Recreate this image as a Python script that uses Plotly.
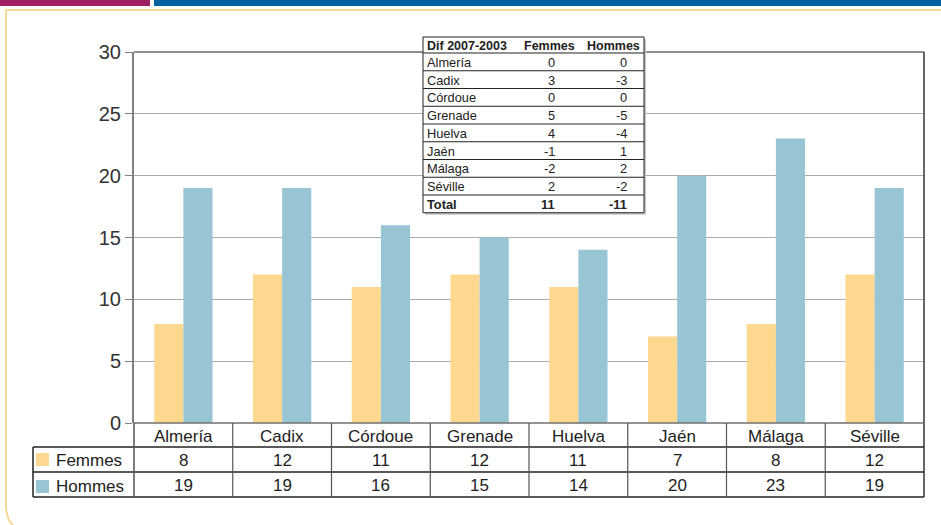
import plotly.graph_objects as go

# ---------------- data ----------------
categories = ["Almería", "Cadix", "Córdoue", "Grenade", "Huelva", "Jaén", "Málaga", "Séville"]
femmes = [8, 12, 11, 12, 11, 7, 8, 12]
hommes = [19, 19, 16, 15, 14, 20, 23, 19]

diff_title = "Dif 2007-2003"
diff_cols = ["Femmes", "Hommes"]
diff_femmes = [0, 3, 0, 5, 4, -1, -2, 2]
diff_hommes = [0, -3, 0, -5, -4, 1, 2, -2]
diff_total_label = "Total"
diff_total = [11, -11]

y_ticks = [0, 5, 10, 15, 20, 25, 30]

# ---------------- layout helpers ----------------
W, H = 941, 525
L, R, T, B = 134, 924, 52, 423  # plot area in pixels
FONT = "Liberation Sans, Arial, sans-serif"
C_F = "#FDD88E"
C_H = "#98C5D4"


def px(x):
    return (x - L) / (R - L)


def py(y):
    return (B - y) / (B - T)


fig = go.Figure()
fig.add_trace(go.Bar(x=categories, y=femmes, name="Femmes", marker=dict(color=C_F, line=dict(width=0))))
fig.add_trace(go.Bar(x=categories, y=hommes, name="Hommes", marker=dict(color=C_H, line=dict(width=0))))

shapes = []
ann = []


def rect(x0, y0, x1, y1, fill=None, line=None, lw=1):
    shapes.append(dict(type="rect", xref="paper", yref="paper",
                       x0=px(x0), x1=px(x1), y0=py(y0), y1=py(y1),
                       fillcolor=fill if fill else "rgba(0,0,0,0)",
                       line=dict(color=line if line else "rgba(0,0,0,0)", width=lw if line else 0)))


def hline(x0, x1, y, color, lw=1):
    shapes.append(dict(type="line", xref="paper", yref="paper", x0=px(x0), x1=px(x1), y0=py(y), y1=py(y),
                       line=dict(color=color, width=lw)))


def vline_px(x, y0, y1, color, lw=1):
    shapes.append(dict(type="line", xref="paper", yref="paper", x0=px(x), x1=px(x), y0=py(y0), y1=py(y1),
                       line=dict(color=color, width=lw)))


def vline_data(xv, y0, y1, color, lw=1):
    shapes.append(dict(type="line", xref="x", yref="paper", x0=xv, x1=xv, y0=py(y0), y1=py(y1),
                       line=dict(color=color, width=lw)))


def text(x, y, s, size=16, anchor="center", bold=False, xref="paper", color="#222"):
    ann.append(dict(x=px(x) if xref == "paper" else x, y=py(y), xref=xref, yref="paper",
                    text=("<b>%s</b>" % s) if bold else s, showarrow=False,
                    xanchor=anchor, yanchor="middle",
                    font=dict(family=FONT, size=size, color=color)))


# header bars
rect(0, 0, 150, 6, fill="#A11F63")
rect(154, 0, 945, 6, fill="#0061A0")

# rounded orange frame
p = lambda x, y: "%f,%f" % (px(x), py(y))
shapes.append(dict(type="path", xref="paper", yref="paper",
                   path="M %s L %s L %s Q %s %s L %s" % (p(945, 10), p(6, 10), p(6, 505), p(6, 532), p(33, 532), p(945, 532)),
                   line=dict(color="#F8D898", width=2)))

# plot frame: top and right
hline(L, R, T, "#6A6A6A", 1.5)
vline_px(R, T, 497, "#333", 1.5)

# bottom data table
hline(L, R, B, "#707070", 1.5)
for yy in (447, 472, 497):
    hline(33, R, yy, "#222", 1.5)
vline_px(33, 447, 497, "#222", 1.5)
vline_px(L, B, 497, "#555", 1.5)
for i in range(1, len(categories)):
    vline_data(i - 0.5, B, 497, "#555", 1.2)

for i, c in enumerate(categories):
    text(i, 436, c, 17, xref="x")
    text(i, 460, str(femmes[i]), 17, xref="x")
    text(i, 485, str(hommes[i]), 17, xref="x")

rect(36, 453, 49, 466, fill=C_F)
rect(36, 480, 49, 493, fill=C_H)
text(54, 460, "Femmes", 17, anchor="left")
text(54, 486, "Hommes", 17, anchor="left")

# inset difference table
tx0, tx1, ty0 = 423, 644, 37
hdr_h = 16
row_h = 17.75
ty1 = ty0 + hdr_h + row_h * (len(categories) + 1)
rect(tx0 + 2, ty0 + 2, tx1 + 2, ty1 + 2, fill="#C8C8C8")
rect(tx0, ty0, tx1, ty1, fill="white", line="#222", lw=1)
fc, hc = 557, 629  # right edges of value columns
FS = 12.8
text(tx0 + 2, ty0 + hdr_h / 2 + 0.5, diff_title, 12.5, anchor="left", bold=True)
text(577, ty0 + hdr_h / 2 + 0.5, diff_cols[0], 12.5, anchor="right", bold=True)
text(642, ty0 + hdr_h / 2 + 0.5, diff_cols[1], 12.5, anchor="right", bold=True)
rows = [(c, diff_femmes[i], diff_hommes[i], False) for i, c in enumerate(categories)]
rows.append((diff_total_label, diff_total[0], diff_total[1], True))
for k, (lab, f, h, b) in enumerate(rows):
    top = ty0 + hdr_h + k * row_h
    hline(tx0, tx1, top, "#222", 1)
    cy = top + row_h / 2 + 0.5
    text(tx0 + 2, cy, lab, FS, anchor="left", bold=b)
    text(fc, cy, str(f), FS, anchor="right", bold=b)
    text(hc, cy, str(h), FS, anchor="right", bold=b)

fig.update_layout(
    width=W, height=H,
    margin=dict(l=L, r=W - R, t=T, b=H - B, pad=0),
    paper_bgcolor="white", plot_bgcolor="white",
    barmode="group", bargap=0.41, bargroupgap=0,
    showlegend=False,
    font=dict(family=FONT, color="#222"),
    xaxis=dict(range=[-0.5, len(categories) - 0.5], showticklabels=False, showgrid=False,
               zeroline=False, showline=False, ticks=""),
    yaxis=dict(range=[0, 30], tickvals=y_ticks, showgrid=True, gridcolor="#ABABAB", gridwidth=1.2,
               zeroline=False, showline=True, linecolor="#808080", linewidth=2,
               ticks="outside", ticklen=7, tickcolor="#808080", tickwidth=1.2,
               tickfont=dict(family=FONT, size=20, color="#333")),
    shapes=shapes, annotations=ann,
)

fig.write_html("out.html", config={"displayModeBar": False},
               post_script="document.body.style.margin='0px';document.body.style.overflow='hidden';")
